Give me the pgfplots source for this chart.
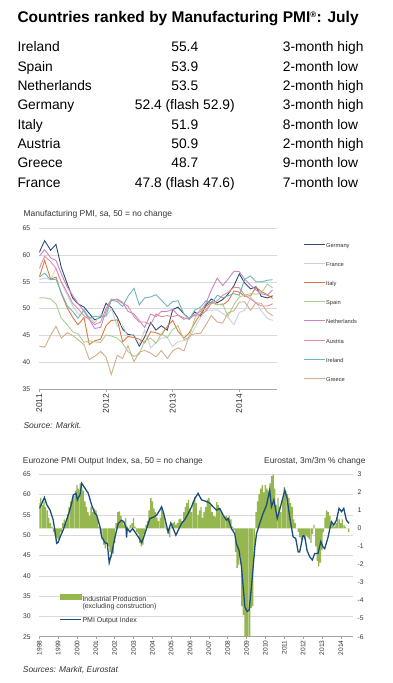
\documentclass[border=0pt]{standalone}
\usepackage{fontspec}
\setmainfont{Liberation Sans}
\usepackage{pgfplots}
\usepackage{pgfplotstable}
\pgfplotsset{compat=1.18}

\definecolor{gridc}{HTML}{D9D9D9}
\definecolor{axc}{HTML}{A6A6A6}
\definecolor{txtc}{HTML}{333333}
\definecolor{cGer}{HTML}{2F4B6E}
\definecolor{cFra}{HTML}{C9D3DC}
\definecolor{cIta}{HTML}{E2783F}
\definecolor{cSpa}{HTML}{A8D08D}
\definecolor{cNed}{HTML}{C985CC}
\definecolor{cAut}{HTML}{E38C9C}
\definecolor{cIrl}{HTML}{6DB7BA}
\definecolor{cGre}{HTML}{D4AD8A}
\definecolor{barc}{HTML}{96B650}
\definecolor{pmic}{HTML}{1D4E78}

\newcommand{\fsz}[1]{\fontsize{#1}{#1}\selectfont}

\pgfplotstableread{
x Ger Fra Ita Spa Ned Aut Irl Gre
2011.00 60.5 55.4 55.9 52.0 59.8 57.5 55.9 43.0
2011.08 62.7 55.7 59.0 52.0 61.0 59.8 56.6 42.8
2011.17 60.9 55.4 55.5 51.8 59.5 58.8 55.4 45.0
2011.25 62.0 57.5 55.9 50.9 59.0 57.5 55.5 46.7
2011.33 57.7 54.9 52.8 48.2 56.5 55.0 53.0 44.5
2011.42 54.6 52.5 50.1 47.0 54.0 53.0 50.5 45.5
2011.50 52.0 50.5 48.4 45.7 52.5 51.0 49.5 45.0
2011.58 50.9 49.1 47.0 45.3 51.0 50.0 48.2 44.2
2011.67 50.3 48.2 48.3 43.7 49.5 48.7 49.8 43.3
2011.75 49.1 48.5 43.3 44.0 48.0 48.0 48.2 40.5
2011.83 47.9 47.3 44.0 43.8 46.3 47.0 48.6 41.1
2011.92 48.4 48.9 44.3 43.7 46.5 47.5 48.4 42.0
2012.00 51.0 48.5 46.8 45.1 49.5 50.0 48.7 41.0
2012.08 50.2 50.0 47.8 44.9 51.5 51.8 51.6 37.7
2012.17 48.4 46.7 47.9 44.5 51.8 51.6 51.3 41.3
2012.25 46.2 46.9 43.8 43.5 51.2 51.0 50.4 40.7
2012.33 45.2 44.7 44.8 42.0 49.5 50.5 52.3 43.1
2012.42 45.0 45.2 44.6 41.1 49.0 48.5 53.8 40.1
2012.50 43.0 43.4 44.3 41.5 47.8 47.5 50.7 41.9
2012.58 44.7 46.0 43.6 44.0 46.5 47.5 52.0 42.2
2012.67 47.4 42.7 45.7 44.5 49.0 47.0 52.2 41.7
2012.75 46.0 43.7 45.5 43.5 48.5 49.0 52.6 41.0
2012.83 46.8 44.5 45.1 45.3 49.5 48.5 51.6 42.2
2012.92 46.0 44.6 46.7 44.6 49.5 48.7 50.4 40.7
2013.00 49.8 42.9 47.8 46.1 49.9 48.5 51.3 42.1
2013.08 50.3 43.9 45.8 46.8 48.8 48.8 51.5 42.7
2013.17 49.0 44.0 44.5 44.2 48.3 48.0 49.0 42.1
2013.25 48.1 44.4 45.5 44.7 48.0 48.4 48.0 45.0
2013.33 49.4 46.4 47.3 48.1 48.9 48.7 49.7 45.3
2013.42 48.6 48.4 49.1 50.0 49.5 49.0 50.3 45.4
2013.50 50.7 49.7 50.4 49.8 51.0 49.5 51.5 47.0
2013.58 51.8 49.7 51.3 51.1 53.5 51.0 51.0 48.7
2013.67 51.1 49.8 50.8 50.7 55.7 51.5 52.5 47.5
2013.75 51.7 49.1 50.7 50.9 54.3 52.5 52.0 47.3
2013.83 52.7 48.4 51.4 48.6 55.5 53.0 52.4 49.2
2013.92 54.3 47.0 53.3 50.8 57.0 54.0 52.8 49.6
2014.00 56.5 49.3 53.1 52.2 56.9 53.9 52.5 51.2
2014.08 54.8 49.7 52.3 52.5 55.5 52.5 55.5 51.3
2014.17 53.7 52.1 52.4 52.8 54.4 51.8 56.1 49.7
2014.25 54.1 51.2 54.0 52.7 53.5 51.0 55.0 51.1
2014.33 52.3 49.6 53.2 52.9 52.8 50.5 55.0 51.0
2014.42 52.0 48.2 52.6 54.6 52.5 50.5 55.3 49.4
2014.50 52.4 47.8 51.9 53.9 53.5 50.9 55.4 48.7
}\pmi

\begin{document}
\begin{tikzpicture}
% ---------- Title and table ----------
\node[anchor=base west, inner sep=0pt, font=\bfseries\fsz{15.5}] at (17.3pt,-22.5pt)
  {Countries ranked by Manufacturing PMI\textsuperscript{\fsz{8}\textregistered}: July};
\begin{scope}[every node/.style={inner sep=0pt, font=\fsz{13.8}}]
\node[anchor=base west] at (17.3pt,-51.7pt) {Ireland};
\node[anchor=base west] at (17.3pt,-71.0pt) {Spain};
\node[anchor=base west] at (17.3pt,-90.3pt) {Netherlands};
\node[anchor=base west] at (17.3pt,-109.7pt) {Germany};
\node[anchor=base west] at (17.3pt,-129.0pt) {Italy};
\node[anchor=base west] at (17.3pt,-148.3pt) {Austria};
\node[anchor=base west] at (17.3pt,-167.7pt) {Greece};
\node[anchor=base west] at (17.3pt,-187.0pt) {France};
\node[anchor=base] at (184.8pt,-51.7pt) {55.4};
\node[anchor=base] at (184.8pt,-71.0pt) {53.9};
\node[anchor=base] at (184.8pt,-90.3pt) {53.5};
\node[anchor=base] at (184.8pt,-109.7pt) {52.4 (flash 52.9)};
\node[anchor=base] at (184.8pt,-129.0pt) {51.9};
\node[anchor=base] at (184.8pt,-148.3pt) {50.9};
\node[anchor=base] at (184.8pt,-167.7pt) {48.7};
\node[anchor=base] at (184.8pt,-187.0pt) {47.8 (flash 47.6)};
\node[anchor=base west] at (282.7pt,-51.7pt) {3-month high};
\node[anchor=base west] at (282.7pt,-71.0pt) {2-month low};
\node[anchor=base west] at (282.7pt,-90.3pt) {2-month high};
\node[anchor=base west] at (282.7pt,-109.7pt) {3-month high};
\node[anchor=base west] at (282.7pt,-129.0pt) {8-month low};
\node[anchor=base west] at (282.7pt,-148.3pt) {2-month high};
\node[anchor=base west] at (282.7pt,-167.7pt) {9-month low};
\node[anchor=base west] at (282.7pt,-187.0pt) {7-month low};
\end{scope}

% ---------- Middle chart ----------
\node[anchor=base west, inner sep=0pt, font=\fsz{8.5}, text=txtc] at (23.3pt,-216.4pt)
  {Manufacturing PMI, sa, 50 = no change};
\node[anchor=base west, inner sep=0pt, font=\itshape\fsz{8.5}, text=txtc] at (23.3pt,-428.7pt)
  {Source: Markit.};

\begin{axis}[
  at={(39.3pt,-228.3pt)}, anchor=north west, scale only axis,
  width=238pt, height=160.7pt,
  xmin=2011, xmax=2014.57, ymin=35, ymax=65,
  axis x line*=bottom, axis y line*=left,
  y axis line style={draw=none},
  x axis line style={axc, line width=0.6pt},
  xtick={2011,2012,2013,2014},
  xticklabels={2011,2012,2013,2014},
  xtick style={axc, line width=0.5pt},
  tick align=outside, major tick length=3pt,
  xticklabel style={yshift=-2pt, rotate=90, anchor=east, inner sep=0pt, font=\fsz{8.5}, text=txtc},
  ytick={35,40,45,50,55,60,65},
  yticklabels={35,40,45,50,55,60,65},
  ytick style={draw=none},
  yticklabel style={inner sep=0pt, xshift=-6pt, anchor=east, font=\fsz{6.8}, text=txtc},
  ymajorgrids, grid style={gridc, line width=0.6pt},
  legend style={at={(1.109,0.916)}, anchor=north west, draw=none, fill=none,
    inner sep=0pt, font=\fsz{5.7}, text=txtc, row sep=12.2pt, column sep=0pt,
    nodes={inner sep=0.8pt, text height=4.2pt, text depth=1.2pt}},
  legend cell align=left,
  legend image code/.code={\draw[#1, line width=0.9pt] (0pt,1.5pt) -- (21pt,1.5pt);},
]
\addplot[cGer, line width=0.9pt] table[x=x, y=Ger] {\pmi};
\addlegendentry{Germany}
\addplot[cFra, line width=0.9pt] table[x=x, y=Fra] {\pmi};
\addlegendentry{France}
\addplot[cIta, line width=0.9pt] table[x=x, y=Ita] {\pmi};
\addlegendentry{Italy}
\addplot[cSpa, line width=0.9pt] table[x=x, y=Spa] {\pmi};
\addlegendentry{Spain}
\addplot[cNed, line width=0.9pt] table[x=x, y=Ned] {\pmi};
\addlegendentry{Netherlands}
\addplot[cAut, line width=0.9pt] table[x=x, y=Aut] {\pmi};
\addlegendentry{Austria}
\addplot[cIrl, line width=0.9pt] table[x=x, y=Irl] {\pmi};
\addlegendentry{Ireland}
\addplot[cGre, line width=0.9pt] table[x=x, y=Gre] {\pmi};
\addlegendentry{Greece}
\end{axis}

% ---------- Bottom chart ----------
\node[anchor=base west, inner sep=0pt, font=\fsz{8.4}, text=txtc] at (22.7pt,-463pt)
  {Eurozone PMI Output Index, sa, 50 = no change};
\node[anchor=base east, inner sep=0pt, font=\fsz{8.4}, text=txtc] at (365.7pt,-463pt)
  {Eurostat, 3m/3m \% change};
\node[anchor=base west, inner sep=0pt, font=\itshape\fsz{8.4}, text=txtc] at (22.7pt,-672.3pt)
  {Sources: Markit, Eurostat};

% axis A: grid, left ticks, x ticks
\begin{axis}[
  at={(39.3pt,-474.3pt)}, anchor=north west, scale only axis,
  width=313.7pt, height=162.4pt,
  xmin=1998, xmax=2014.65, ymin=25, ymax=65,
  axis x line*=bottom, axis y line*=left,
  y axis line style={draw=none},
  x axis line style={axc, line width=0.6pt},
  xtick={1998,1999,2000,2001,2002,2003,2004,2005,2006,2007,2008,2009,2010,2011,2012,2013,2014},
  xticklabels={1998,1999,2000,2001,2002,2003,2004,2005,2006,2007,2008,2009,2010,2011,2012,2013,2014},
  xtick style={axc, line width=0.5pt},
  tick align=outside, major tick length=2.5pt,
  xticklabel style={yshift=-1pt, rotate=90, anchor=east, inner sep=0pt, font=\fsz{6.6}, text=txtc},
  ytick={25,30,35,40,45,50,55,60,65},
  yticklabels={25,30,35,40,45,50,55,60,65},
  ytick style={draw=none},
  yticklabel style={inner sep=0pt, xshift=-6pt, anchor=east, font=\fsz{6.8}, text=txtc},
  ymajorgrids, grid style={gridc, line width=0.6pt},
]
\end{axis}

% axis B: bars (right axis)
\begin{axis}[
  at={(39.3pt,-474.3pt)}, anchor=north west, scale only axis,
  width=313.7pt, height=162.4pt,
  xmin=1998, xmax=2014.65, ymin=-6, ymax=3,
  axis x line=none, axis y line*=right,
  y axis line style={draw=none},
  ytick={-6,-5,-4,-3,-2,-1,0,1,2,3},
  yticklabels={-6,-5,-4,-3,-2,-1,0,1,2,3},
  ytick style={draw=none},
  yticklabel style={inner sep=0pt, xshift=4.5pt, anchor=west, font=\fsz{6.8}, text=txtc},
]
\addplot[ybar, bar width=0.072, fill=barc, draw=none] coordinates {
(1998.00,1.4) (1998.08,1.7) (1998.17,1.3) (1998.25,1.5) (1998.33,1.2) (1998.42,1.0) (1998.50,0.6) (1998.58,0.3) (1998.67,0.1) (1998.75,-0.2) (1998.83,-0.4) (1998.92,-0.5)
(1999.00,-0.6) (1999.08,-0.5) (1999.17,-0.2) (1999.25,0.3) (1999.33,0.5) (1999.42,0.3) (1999.50,0.8) (1999.58,1.2) (1999.67,1.5) (1999.75,1.7) (1999.83,1.8) (1999.92,2.1)
(2000.00,2.4) (2000.08,2.2) (2000.17,2.5) (2000.25,2.3) (2000.33,2.1) (2000.42,1.5) (2000.50,1.2) (2000.58,0.9) (2000.67,0.7) (2000.75,1.2) (2000.83,0.9) (2000.92,1.1)
(2001.00,1.0) (2001.08,0.6) (2001.17,0.1) (2001.25,-0.3) (2001.33,-0.6) (2001.42,-0.9) (2001.50,-1.1) (2001.58,-0.8) (2001.67,-1.0) (2001.75,-1.3) (2001.83,-1.6) (2001.92,-1.4)
(2002.00,-0.8) (2002.08,0.3) (2002.17,0.9) (2002.25,0.95) (2002.33,0.7) (2002.42,0.4) (2002.50,0.2) (2002.58,0.56) (2002.67,0.1) (2002.75,-0.1) (2002.83,0.2) (2002.92,0.3)
(2003.00,0.57) (2003.08,0.1) (2003.17,-0.2) (2003.25,-0.3) (2003.33,-0.8) (2003.42,-1.0) (2003.50,-0.9) (2003.58,-0.3) (2003.67,0.2) (2003.75,0.4) (2003.83,1.0) (2003.92,1.7)
(2004.00,1.5) (2004.08,1.1) (2004.17,0.9) (2004.25,0.6) (2004.33,0.4) (2004.42,0.6) (2004.50,1.1) (2004.58,0.9) (2004.67,0.5) (2004.75,-0.1) (2004.83,-0.3) (2004.92,-0.5)
(2005.00,0.1) (2005.08,0.3) (2005.17,0.35) (2005.25,0.2) (2005.33,0.3) (2005.42,0.5) (2005.50,0.55) (2005.58,0.4) (2005.67,0.9) (2005.75,1.2) (2005.83,1.4) (2005.92,1.6)
(2006.00,1.1) (2006.08,0.9) (2006.17,1.5) (2006.25,1.75) (2006.33,1.4) (2006.42,0.75) (2006.50,1.0) (2006.58,1.2) (2006.67,0.6) (2006.75,0.9) (2006.83,1.2) (2006.92,1.6)
(2007.00,1.7) (2007.08,1.3) (2007.17,0.9) (2007.25,0.7) (2007.33,0.65) (2007.42,1.46) (2007.50,1.3) (2007.58,1.1) (2007.67,0.9) (2007.75,0.7) (2007.83,0.65) (2007.92,0.7)
(2008.00,0.6) (2008.08,0.68) (2008.17,0.5) (2008.25,0.1) (2008.33,-0.1) (2008.42,-1.3) (2008.50,-2.2) (2008.58,-2.0) (2008.67,-1.5) (2008.75,-4.3) (2008.83,-4.8) (2008.92,-6.5)
(2009.00,-7) (2009.08,-8) (2009.17,-8) (2009.25,-4.4) (2009.33,-4.3) (2009.42,-1.6) (2009.50,0.9) (2009.58,1.5) (2009.67,1.9) (2009.75,2.2) (2009.83,2.4) (2009.92,2.0)
(2010.00,2.4) (2010.08,2.2) (2010.17,2.1) (2010.25,2.5) (2010.33,2.9) (2010.42,3.0) (2010.50,2.2) (2010.58,1.3) (2010.67,1.7) (2010.75,1.2) (2010.83,0.9) (2010.92,1.7)
(2011.00,2.3) (2011.08,2.1) (2011.17,1.9) (2011.25,1.7) (2011.33,1.4) (2011.42,1.2) (2011.50,0.5) (2011.58,0.3) (2011.67,0.0) (2011.75,-0.2) (2011.83,-0.5) (2011.92,-0.65)
(2012.00,-0.3) (2012.08,-0.6) (2012.17,-0.4) (2012.25,-0.5) (2012.33,-0.6) (2012.42,-0.8) (2012.50,-0.3) (2012.58,0.2) (2012.67,-1.0) (2012.75,-1.8) (2012.83,-2.1) (2012.92,-1.9)
(2013.00,-1.2) (2013.08,-0.2) (2013.17,0.6) (2013.25,1.0) (2013.33,0.9) (2013.42,0.7) (2013.50,0.4) (2013.58,0.2) (2013.67,0.1) (2013.75,0.3) (2013.83,0.6) (2013.92,0.5)
(2014.00,0.3) (2014.08,0.5) (2014.17,0.2) (2014.25,0.1) (2014.33,0.0) (2014.42,-0.2)
};
\end{axis}

% axis C: PMI output line and legend
\begin{axis}[
  at={(39.3pt,-474.3pt)}, anchor=north west, scale only axis,
  width=313.7pt, height=162.4pt,
  xmin=1998, xmax=2014.65, ymin=25, ymax=65,
  hide axis,
  legend style={at={(0.0638,0.263)}, anchor=north west, draw=none, fill=none,
    inner sep=0pt, font=\fsz{7}, text=txtc, row sep=13pt, column sep=0pt,
    nodes={inner sep=1pt}},
  legend cell align=left,
]
\addlegendimage{legend image code/.code={\fill[barc] (0pt,0.5pt) rectangle (20.7pt,5.2pt);}}
\addlegendentry{\begin{tabular}[t]{@{}l@{}}Industrial Production\\(excluding construction)\end{tabular}}
\addplot[pmic, line width=1.3pt, legend image code/.code={\draw[pmic, line width=1.3pt] (0pt,2pt) -- (20.7pt,2pt);}] coordinates {
(1998.00,56.6) (1998.10,57.5) (1998.27,59.3) (1998.40,57.5) (1998.57,56.2) (1998.74,53.7) (1998.85,50.5) (1998.92,48.0) (1999.00,48.2) (1999.10,49.5) (1999.27,51.3) (1999.54,55.0) (1999.72,57.9) (1999.80,59.9) (1999.95,60.3)
(2000.02,58.7) (2000.16,60.0) (2000.25,62.8) (2000.42,61.6) (2000.60,60.3) (2000.78,57.4) (2000.95,55.4) (2001.04,55.0) (2001.22,52.1) (2001.31,49.6) (2001.48,48.2) (2001.61,47.9) (2001.71,43.2) (2001.84,45.5)
(2002.02,49.6) (2002.19,52.9) (2002.37,53.7) (2002.49,53.3) (2002.60,52.0) (2002.63,49.4) (2002.67,51.6) (2002.81,50.8) (2002.95,51.6) (2003.08,50.8) (2003.25,49.6) (2003.43,48.2) (2003.55,49.6) (2003.69,51.6) (2003.87,54.1)
(2004.08,54.5) (2004.22,54.9) (2004.40,56.2) (2004.49,57.0) (2004.58,55.8) (2004.75,52.5) (2004.84,50.8) (2004.98,53.0) (2005.11,51.6) (2005.25,50.0) (2005.38,51.3) (2005.55,52.9) (2005.70,53.7) (2005.91,55.4)
(2006.08,57.0) (2006.26,59.1) (2006.43,60.3) (2006.61,58.7) (2006.87,58.3) (2007.05,57.9) (2007.22,57.0) (2007.40,56.2) (2007.58,56.6) (2007.75,55.0) (2007.93,53.7) (2008.02,54.1) (2008.20,51.6) (2008.37,50.4) (2008.46,47.9)
(2008.60,46.3) (2008.73,42.2) (2008.82,37.3) (2008.91,32.4) (2009.03,31.2) (2009.14,31.6) (2009.26,37.3) (2009.35,42.2) (2009.44,47.1) (2009.53,50.4) (2009.70,52.9) (2009.88,55.4) (2010.06,57.4) (2010.23,61.1) (2010.32,57.0)
(2010.45,58.7) (2010.63,54.1) (2010.80,57.0) (2011.03,61.1) (2011.15,59.1) (2011.29,54.5) (2011.47,49.6) (2011.61,49.2) (2011.74,45.9) (2011.82,45.9) (2012.00,50.0) (2012.09,49.6) (2012.21,46.3) (2012.35,44.7) (2012.49,43.9)
(2012.62,45.5) (2012.79,45.5) (2012.94,48.4) (2013.06,47.1) (2013.15,46.7) (2013.33,49.6) (2013.42,51.6) (2013.51,53.3) (2013.63,52.5) (2013.77,53.7) (2013.91,56.6) (2014.04,55.8) (2014.16,56.6) (2014.30,53.7) (2014.44,52.9)
};
\addlegendentry{PMI Output Index}
\end{axis}

\pgfresetboundingbox
\path[use as bounding box] (0pt,0pt) rectangle (393pt,-683pt);
\end{tikzpicture}
\end{document}
